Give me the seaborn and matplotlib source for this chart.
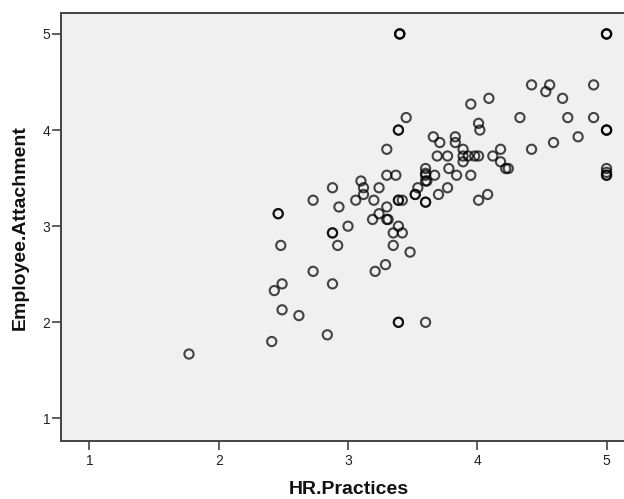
import pandas as pd
import seaborn as sns
import matplotlib.pyplot as plt

# HR practices vs employee attachment
hr_practices = [
    3.40, 3.40, 3.40, 5.00, 5.00, 5.00,
    4.42, 4.56, 4.53, 4.90, 4.09, 4.66, 3.95,
    3.45, 4.33, 4.70, 4.90,
    3.39, 3.39, 4.01, 4.02, 5.00, 5.00, 5.00,
    3.66, 3.83, 4.78, 3.71, 3.83, 4.59,
    3.30, 3.89, 4.18, 4.42,
    3.69, 3.77, 3.89, 3.93, 3.98, 4.01, 4.12,
    3.89, 4.18,
    3.60, 3.78, 4.22, 4.24, 5.00, 5.00,
    3.30, 3.37, 3.60, 3.60, 3.67, 3.84, 3.95, 5.00, 5.00,
    3.10, 3.60, 3.61,
    3.12, 2.88, 3.24, 3.54, 3.77,
    3.12, 3.52, 3.52, 3.70, 4.08,
    2.73, 3.06, 3.20, 3.39, 3.39, 3.42, 3.60, 3.60, 4.01,
    2.93, 3.30,
    2.46, 2.46, 3.24,
    3.19, 3.30, 3.31,
    3.00, 3.39,
    2.88, 2.88, 3.35, 3.42,
    2.48, 2.92, 3.35,
    3.48,
    3.29,
    2.73, 3.21,
    2.49, 2.88,
    2.43,
    2.49,
    2.62,
    3.39, 3.39, 3.60,
    2.84,
    2.41,
    1.77,
]
attachment = [
    5.00, 5.00, 5.00, 5.00, 5.00, 5.00,
    4.47, 4.47, 4.40, 4.47, 4.33, 4.33, 4.27,
    4.13, 4.13, 4.13, 4.13,
    4.00, 4.00, 4.07, 4.00, 4.00, 4.00, 4.00,
    3.93, 3.93, 3.93, 3.87, 3.87, 3.87,
    3.80, 3.80, 3.80, 3.80,
    3.73, 3.73, 3.73, 3.73, 3.73, 3.73, 3.73,
    3.67, 3.67,
    3.60, 3.60, 3.60, 3.60, 3.60, 3.53,
    3.53, 3.53, 3.53, 3.55, 3.53, 3.53, 3.53, 3.53, 3.56,
    3.47, 3.47, 3.47,
    3.40, 3.40, 3.40, 3.40, 3.40,
    3.33, 3.33, 3.33, 3.33, 3.33,
    3.27, 3.27, 3.27, 3.27, 3.27, 3.27, 3.25, 3.25, 3.27,
    3.20, 3.20,
    3.13, 3.13, 3.13,
    3.07, 3.07, 3.07,
    3.00, 3.00,
    2.93, 2.93, 2.93, 2.93,
    2.80, 2.80, 2.80,
    2.73,
    2.60,
    2.53, 2.53,
    2.40, 2.40,
    2.33,
    2.13,
    2.07,
    2.00, 2.00, 2.00,
    1.87,
    1.80,
    1.67,
]

df = pd.DataFrame({"HR.Practices": hr_practices, "Employee.Attachment": attachment})

sns.set_style("ticks")
plt.rcParams["font.family"] = ["Liberation Sans", "DejaVu Sans"]

fig = plt.figure(figsize=(6.24, 4.99), dpi=100)
ax = fig.add_axes([0.0978, 0.1162, 0.9022, 0.8572])
ax.set_facecolor("#f0f0f0")

sns.scatterplot(data=df, x="HR.Practices", y="Employee.Attachment", ax=ax,
                marker="o", s=44, facecolor="none", edgecolor=(0, 0, 0, 0.72),
                linewidth=1.5)

ax.set_xlim(0.78, 5.135)
ax.set_ylim(0.765, 5.215)
ax.set_xticks([1, 2, 3, 4, 5])
ax.set_yticks([1, 2, 3, 4, 5])

tick_font = ["Liberation Sans Narrow", "Liberation Sans", "DejaVu Sans"]
ax.set_xticklabels(["1", "2", "3", "4", "5"], family=tick_font, fontsize=10, color="#222222")
ax.set_yticklabels(["1", "2", "3", "4", "5"], family=tick_font, fontsize=10, color="#222222")
ax.tick_params(direction="out", length=6.5, width=1.2, color="#444444")
ax.tick_params(axis="x", pad=3)
ax.tick_params(axis="y", pad=1)

for side in ["left", "top", "bottom"]:
    ax.spines[side].set_color("#444444")
    ax.spines[side].set_linewidth(1.4)
ax.spines["right"].set_visible(False)

ax.set_xlabel("HR.Practices", fontsize=14, fontweight="bold", color="#111111")
ax.set_ylabel("Employee.Attachment", fontsize=14, fontweight="bold", color="#111111")
# SPSS puts the titles close to the canvas edges
ax.xaxis.label.set_va("baseline")
ax.xaxis.set_label_coords(0.5115, -0.123)
ax.yaxis.label.set_va("center")
ax.yaxis.set_label_coords(-0.073, 0.5)

fig.savefig("out.png", dpi=100, facecolor="white")
